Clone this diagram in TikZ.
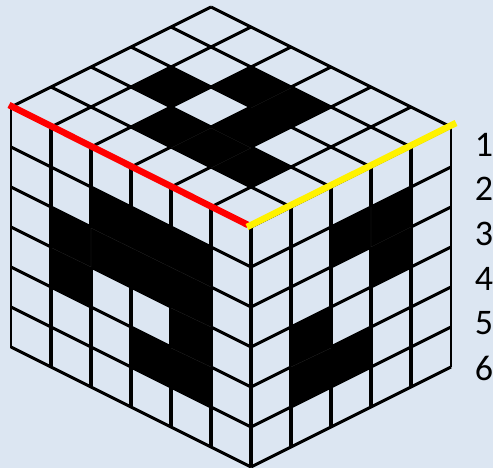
\documentclass[tikz,border=0pt]{standalone}
\usepackage{fontspec}
\setmainfont{Carlito}
\definecolor{fundo}{HTML}{DCE6F2}

\begin{document}
\begin{tikzpicture}[
	x=1pt, y=-1pt,
	grade/.style={draw=black, line width=3pt},
	vertical/.style={draw=black, line width=3.7pt},
	borda/.style={draw=black, line width=2.8pt},
	fresta/.style={draw=black!82, line width=0.2pt},
	cheio/.style={fill=black},
	aresta/.style={line width=6.5pt},
	numero/.style={font=\fontsize{36}{36}\selectfont, inner sep=0pt, anchor=center}
	]
	\useasboundingbox (0,0) rectangle (493,468);
	\fill[fundo] (0,0) rectangle (493,468);

	% black cells of the top face
	\foreach \i/\j in {2/1,1/2,1/3,3/2,2/3,3/3,3/4}
		\fill[cheio] ({211-40*\i+40*\j},{7+20*\i+20*\j}) -- ++(40,20) -- ++(-40,20) -- ++(-40,-20) -- cycle;
	% black cells of the left face
	\foreach \a/\r in {1/2,1/3,2/1,2/2,3/1,3/2,3/4,4/1,4/2,4/3,4/4}
		\fill[cheio] ({11+40*\a},{107+20*\a+40*\r}) -- ++(40,20) -- ++(0,40) -- ++(-40,-20) -- cycle;
	% black cells of the right face
	\foreach \b/\r in {1/3,1/4,2/1,2/4,3/1,3/2}
		\fill[cheio] ({251+40*\b},{227-20*\b+40*\r}) -- ++(40,-20) -- ++(0,40) -- ++(-40,20) -- cycle;

	% grid lines
	\foreach \i in {0,...,5}
		\draw[grade] ({211-40*\i},{7+20*\i}) -- ++(240,120);
	\foreach \j in {0,...,6}
		\draw[grade] ({211+40*\j},{7+20*\j}) -- ++(-200,100);
	\foreach \a in {1,...,6}
		\draw[vertical] ({11+40*\a},{107+20*\a}) -- ++(0,240);
	\foreach \r in {1,...,6}
		\draw[grade] (11,{107+40*\r}) -- ++(240,120);
	\foreach \b in {1,...,4}
		\draw[vertical] ({251+40*\b},{227-20*\b}) -- ++(0,240);
	\foreach \r in {1,...,6}
		\draw[grade] (251,{227+40*\r}) -- ++(200,-100);
	\draw[borda] (11,107) -- (11,348);
	\draw[borda] (451,127) -- (451,367);

	% seams inside the black areas
	\draw[fresta] (251,108) -- (291,88) (171,148) -- (211,128) -- (251,148) (211,168) -- (251,148);
	\draw[fresta] (52,248) -- (91,267) -- (91,228) -- (211,287) (171,308) -- (211,327) (171,348) -- (211,367);
	\draw[fresta] (371,207) -- (371,247) -- (411,227) (291,367) -- (331,348);

	\coordinate (esq) at (9,105);
	\coordinate (frente) at (248,225);
	\coordinate (frenteb) at (247,227);
	\coordinate (dir) at (456,123);
	\draw[aresta, red] (esq) -- (frente);
	\draw[aresta, yellow] (frenteb) -- (dir);

	\node[numero] (n1) at (484,145) {1};
	\node[numero] (n2) at (484,189) {2};
	\node[numero] (n3) at (484,234) {3};
	\node[numero] (n4) at (484,279) {4};
	\node[numero] (n5) at (484,323) {5};
	\node[numero] (n6) at (484,368) {6};
\end{tikzpicture}
\end{document}
